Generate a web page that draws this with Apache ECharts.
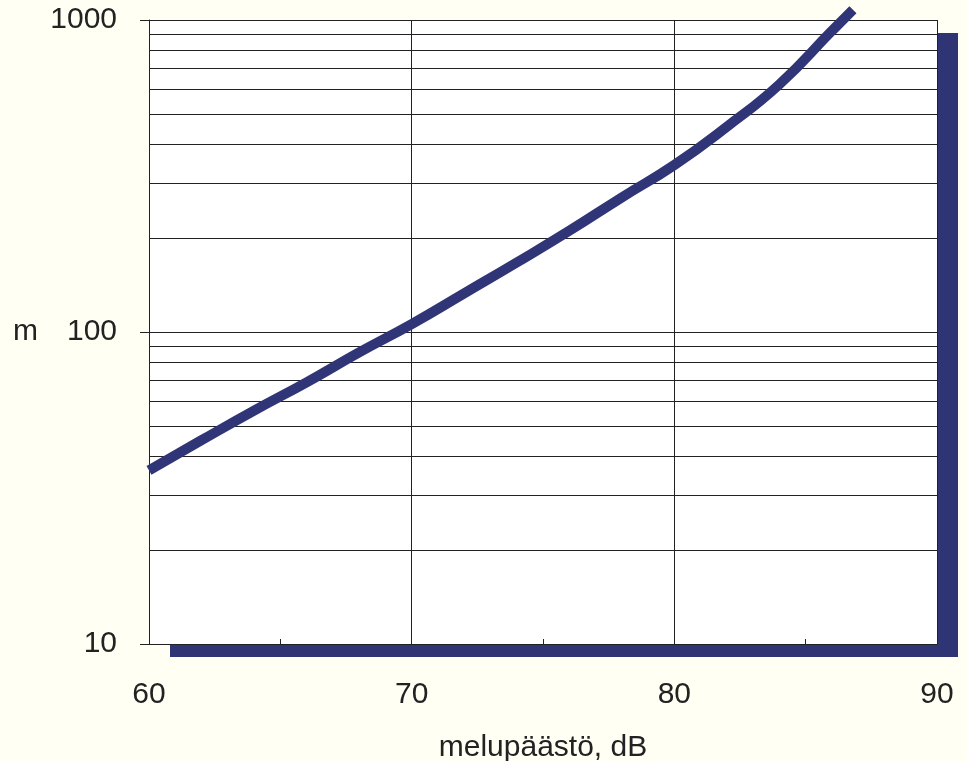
<!DOCTYPE html>
<html>
<head>
<meta charset="utf-8">
<script src="https://cdn.jsdelivr.net/npm/echarts@6/dist/echarts.min.js"></script>
<style>
html,body{margin:0;padding:0;background:#fffff4;}
#chart{width:967px;height:761px;}
</style>
</head>
<body>
<div id="chart"></div>
<script>
// Curve readings (dB -> m)
const xValues = [60, 62, 64, 66, 68, 70, 72, 74, 76, 78, 80, 82, 84, 86, 86.8];
const yValues = [36, 45, 56, 69, 86, 106, 133, 167, 211, 270, 343, 455, 622, 923, 1079];
// Axis ticks
const xTicks = [60, 70, 80, 90];
const yTicks = [10, 100, 1000];
// Minor horizontal grid levels
const gridLevels = [20, 30, 40, 50, 60, 70, 80, 90, 200, 300, 400, 500, 600, 700, 800, 900];

const curve = xValues.map((x, i) => [x, yValues[i]]);

const chart = echarts.init(document.getElementById('chart'), null, {renderer: 'canvas'});
chart.setOption({
  backgroundColor: '#fffff4',
  animation: false,
  textStyle: {fontFamily: 'Liberation Sans, Arial, sans-serif'},
  grid: {
    left: 149, right: 30, top: 20, bottom: 117,
    outerBoundsMode: 'none', containLabel: false,
    show: true, backgroundColor: '#ffffff', borderWidth: 0,
    shadowColor: '#2e3474', shadowBlur: 0, shadowOffsetX: 21, shadowOffsetY: 13
  },
  xAxis: {
    type: 'value', min: xTicks[0], max: xTicks[xTicks.length - 1], interval: 10,
    name: 'melupäästö, dB', nameLocation: 'middle', nameGap: 89,
    nameTextStyle: {fontSize: 30, color: '#222'},
    axisLine: {show: true, lineStyle: {color: '#222', width: 1}},
    axisTick: {show: true, inside: true, length: 5, lineStyle: {color: '#222'}},
    minorTick: {show: true, splitNumber: 2, length: 5, lineStyle: {color: '#222'}},
    axisLabel: {fontSize: 30, color: '#222', margin: 36},
    splitLine: {show: true, lineStyle: {color: '#222', width: 1}}
  },
  yAxis: {
    type: 'log', logBase: 10, min: yTicks[0], max: yTicks[yTicks.length - 1],
    name: 'm', nameLocation: 'middle', nameRotate: 0, nameGap: 111,
    nameTextStyle: {fontSize: 30, color: '#222'},
    axisLine: {show: true, lineStyle: {color: '#222', width: 1}},
    axisTick: {show: true, inside: false, length: 9, lineStyle: {color: '#222'}},
    axisLabel: {fontSize: 30, color: '#222', margin: 32, formatter: v => String(Math.round(v))},
    splitLine: {show: true, lineStyle: {color: '#222', width: 1}}
  },
  series: [
    {
      type: 'line', data: [], z: 1, silent: true,
      markLine: {
        silent: true, symbol: 'none', animation: false,
        label: {show: false},
        lineStyle: {color: '#222', width: 1, type: 'solid'},
        data: gridLevels.map(v => ({yAxis: v}))
      }
    },
    {
      type: 'line', data: curve, smooth: 0.5, showSymbol: false, clip: false, z: 5,
      lineStyle: {color: '#2f3577', width: 10, cap: 'butt'}
    }
  ]
});
</script>
</body>
</html>
